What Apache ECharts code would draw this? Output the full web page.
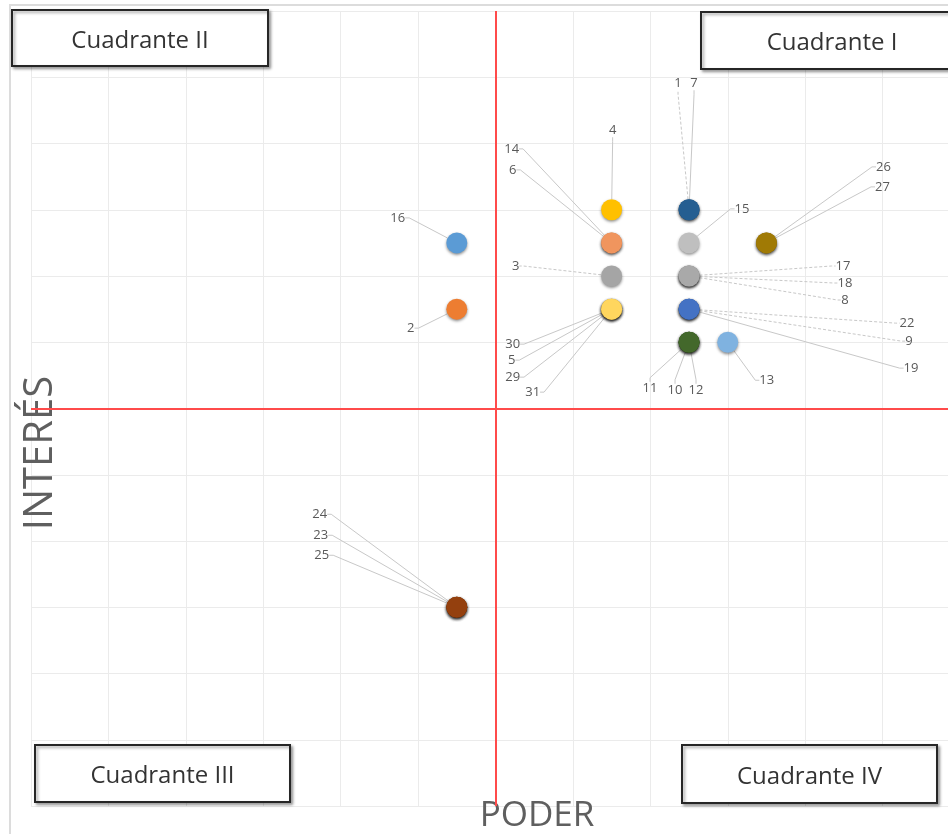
<!DOCTYPE html>
<html><head><meta charset="utf-8">
<script src="https://cdn.jsdelivr.net/npm/echarts@6/dist/echarts.min.js"></script>
<style>html,body{margin:0;padding:0;background:#fff}#c{width:948px;height:834px}</style>
</head><body><div id="c"></div>
<script>
// Stakeholder numbers
const ids     = [16, 2, 4, 14, 6, 3, 30, 5, 29, 31, 1, 7, 15, 17, 18, 8, 22, 9, 19, 11, 10, 12, 13, 26, 27, 24, 23, 25];
// PODER (x) and INTERÉS (y) values
const poder   = [-0.5, -0.5, 1.5, 1.5, 1.5, 1.5, 1.5, 1.5, 1.5, 1.5, 2.5, 2.5, 2.5, 2.5, 2.5, 2.5, 2.5, 2.5, 2.5, 2.5, 2.5, 2.5, 3, 3.5, 3.5, -0.5, -0.5, -0.5];
const interes = [2.5, 1.5, 3, 2.5, 2.5, 2, 1.5, 1.5, 1.5, 1.5, 3, 3, 2.5, 2, 2, 2, 1.5, 1.5, 1.5, 1, 1, 1, 1, 2.5, 2.5, -3, -3, -3];
const quadrantNames = ['Cuadrante I', 'Cuadrante II', 'Cuadrante III', 'Cuadrante IV'];

// styles (kept apart from the data)
const pointColor = {
  16:'#5B9BD5', 2:'#ED7D31', 4:'#FFC000', 14:'#F0955E', 6:'#F0955E', 3:'#A5A5A5',
  30:'#FFD65E', 5:'#FFD65E', 29:'#FFD65E', 31:'#FFD65E', 1:'#255E91', 7:'#255E91',
  15:'#BFBFBF', 17:'#A9A9A9', 18:'#A9A9A9', 8:'#A9A9A9', 22:'#4472C4', 9:'#4472C4', 19:'#4472C4',
  11:'#43682B', 10:'#43682B', 12:'#43682B', 13:'#7FB2E0', 26:'#A07A05', 27:'#A07A05',
  24:'#94400E', 23:'#94400E', 25:'#94400E'
};
const labelOffset = {
  16:[-59,-25], 2:[-46,19], 4:[1,-79], 14:[-100,-94], 6:[-99,-73], 3:[-96,-10],
  30:[-99,35], 5:[-100,51], 29:[-99,68], 31:[-79,83], 1:[-11,-126], 7:[5,-126],
  15:[53,-34], 26:[117,-76], 27:[116,-56], 17:[154,-10], 18:[156,7], 8:[156,24],
  22:[218,14], 9:[220,32], 19:[222,59], 11:[-39,46], 10:[-14,48], 12:[7,48],
  13:[39,38], 24:[-137,-93], 23:[-136,-72], 25:[-135,-52]
};
const dashedLines = [1, 3, 17, 18, 8, 22, 9];

const chart = echarts.init(document.getElementById('c'), null, {renderer:'canvas'});
const data = ids.map((id, i) => {
  const d = { name: String(id), value: [poder[i], interes[i]], itemStyle: { color: pointColor[id] } };
  if (dashedLines.indexOf(id) >= 0) d.labelLine = { lineStyle: { type: [3, 2] } };
  return d;
});

function box(x, y, w, h, text) {
  return {
    type: 'group', z: 100,
    children: [
      {
        type: 'rect', z: 100,
        shape: { x: x, y: y, width: w, height: h },
        style: { fill: '#fff', stroke: '#262626', lineWidth: 2, shadowBlur: 3, shadowOffsetX: 2, shadowOffsetY: 2, shadowColor: 'rgba(0,0,0,0.35)' }
      },
      {
        type: 'text', z: 101,
        x: x + w / 2, y: y + h / 2 + 3,
        style: { text: text, fill: '#333333', font: '24px "Open Sans"', textAlign: 'center', textVerticalAlign: 'middle' }
      }
    ]
  };
}

chart.setOption({
  animation: false,
  backgroundColor: '#fff',
  grid: { left: 31, right: -12, top: 11, bottom: 28, containLabel: false, outerBoundsMode: 'none' },
  xAxis: {
    type: 'value', min: -6, max: 6, interval: 1,
    name: 'PODER', nameLocation: 'middle', nameGap: -7,
    nameTextStyle: { fontFamily: 'Open Sans', fontSize: 35, color: '#5f5f5f', padding: [0, 0, 0, 83] },
    axisLine: { show: false }, axisTick: { show: false }, axisLabel: { show: false },
    splitLine: { show: true, lineStyle: { color: '#EBEBEB', width: 1 } }
  },
  yAxis: {
    type: 'value', min: -6, max: 6, interval: 1,
    name: 'INTERÉS', nameLocation: 'middle', nameGap: -30,
    nameTextStyle: { fontFamily: 'Open Sans', fontSize: 40, color: '#5f5f5f', padding: [0, 89, 0, 0] },
    axisLine: { show: false }, axisTick: { show: false }, axisLabel: { show: false },
    splitLine: { show: true, lineStyle: { color: '#EBEBEB', width: 1 } }
  },
  graphic: [
    { type: 'rect', z: 1, shape: { x: 10, y: 5, width: 1000, height: 1000 }, style: { fill: 'none', stroke: '#DCDCDC', lineWidth: 2 } },
    box(701, 12, 262, 57, quadrantNames[0]),
    box(12, 10, 256, 56, quadrantNames[1]),
    box(35, 745, 255, 57, quadrantNames[2]),
    box(682, 745, 255, 58, quadrantNames[3])
  ],
  series: [{
    type: 'scatter',
    symbolSize: 21,
    data: data,
    itemStyle: { opacity: 1, shadowBlur: 3, shadowOffsetY: 1.5, shadowColor: 'rgba(0,0,0,0.45)' },
    label: { show: true, position: 'inside', formatter: p => p.name, color: '#595959', fontSize: 13, fontFamily: 'Open Sans' },
    labelLayout: function (p) { const o = labelOffset[ids[p.dataIndex]]; return { dx: o[0], dy: o[1] }; },
    labelLine: { show: true, length2: 4, lineStyle: { color: '#C8C8C8', width: 1 } },
    emphasis: { disabled: true },
    markLine: {
      silent: true, symbol: 'none', label: { show: false },
      lineStyle: { color: '#FF4B4B', width: 2, type: 'solid' },
      data: [{ xAxis: 0 }, { yAxis: 0 }]
    }
  }]
});
</script></body></html>
